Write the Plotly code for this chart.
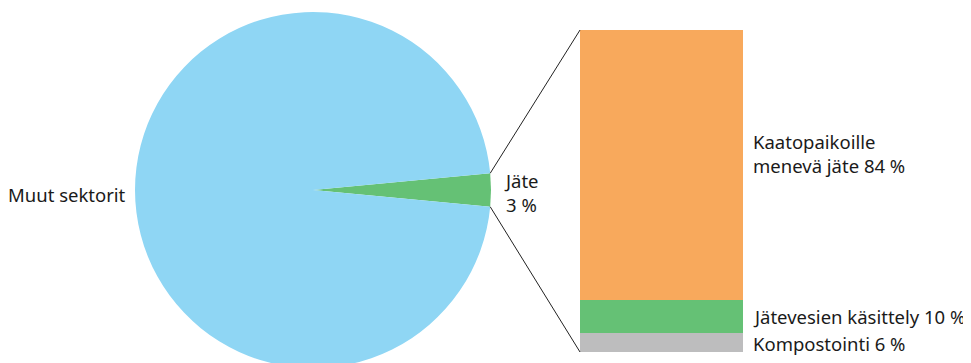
import math
import plotly.graph_objects as go

# pie: share of emissions
pie_labels = ["Jäte", "Muut sektorit"]
pie_values = [3, 97]
pie_colors = ["#65c175", "#8fd6f4"]

# stacked bar: breakdown of waste
bar_labels = ["Kompostointi", "Jätevesien käsittely", "Kaatopaikoille menevä jäte"]
bar_values = [6, 10, 84]
bar_colors = ["#bdbdbe", "#65c175", "#f8a95c"]
bar_text = ["Kompostointi 6 %", "Jätevesien käsittely 10 %", "Kaatopaikoille<br>menevä jäte 84 %"]

# page body has an 8px margin, so work in screen pixels and shift
OFF = 8
W, H = 963, 370
FONT = dict(family="Noto Sans", size=18.5, color="#1a1a1a")


def fx(x):
    return (x - OFF) / W


def fy(y):
    return 1 - (y - OFF) / H


# pie geometry in screen pixels
cx, cy, r = 313, 190, 178
half_deg = pie_values[0] / 100 * 360 / 2

fig = go.Figure()
fig.add_trace(go.Pie(
    labels=pie_labels, values=pie_values, sort=False, direction="counterclockwise",
    rotation=90 - half_deg,
    marker=dict(colors=pie_colors, line=dict(width=0)),
    textinfo="none", hoverinfo="label+percent",
    domain=dict(x=[fx(cx - r), fx(cx + r)], y=[fy(cy + r), fy(cy - r)]),
))

for lab, val, col in zip(bar_labels, bar_values, bar_colors):
    fig.add_trace(go.Bar(x=["Jäte"], y=[val], name=lab, marker=dict(color=col, line=dict(width=0)),
                         xaxis="x2", yaxis="y2", hoverinfo="name+y"))

bx0, bx1, by0, by1 = 580, 743, 30, 352
fig.update_layout(
    width=W, height=H, margin=dict(l=0, r=0, t=0, b=0),
    paper_bgcolor="white", plot_bgcolor="white", showlegend=False,
    barmode="stack", bargap=0,
    xaxis2=dict(domain=[fx(bx0), fx(bx1)], anchor="y2", visible=False),
    yaxis2=dict(domain=[fy(by1), fy(by0)], anchor="x2", range=[0, 100], visible=False),
    font=FONT,
)

# connector lines from slice edges to bar corners
half = math.radians(half_deg)
ex = cx + r * math.cos(half)
ey_top = cy - r * math.sin(half)
ey_bot = cy + r * math.sin(half)
for (x0, y0, x1, y1) in [(ex, ey_top, bx0, by0), (ex, ey_bot, bx0, by1)]:
    fig.add_shape(type="line", xref="paper", yref="paper",
                  x0=fx(x0), y0=fy(y0), x1=fx(x1), y1=fy(y1),
                  line=dict(color="#222222", width=1))


def px_ann(text, x, y, xanchor="left"):
    fig.add_annotation(text=text, x=fx(x), y=fy(y), xref="paper", yref="paper",
                       xanchor=xanchor, yanchor="middle", showarrow=False, align="left", font=FONT)


px_ann("Muut sektorit", 128, 195, "right")
px_ann("Jäte<br>3 %", 502, 192)
px_ann(bar_text[2], 751, 153)
px_ann(bar_text[1], 751, 316)
px_ann(bar_text[0], 751, 343)

fig.write_html("out.html")
